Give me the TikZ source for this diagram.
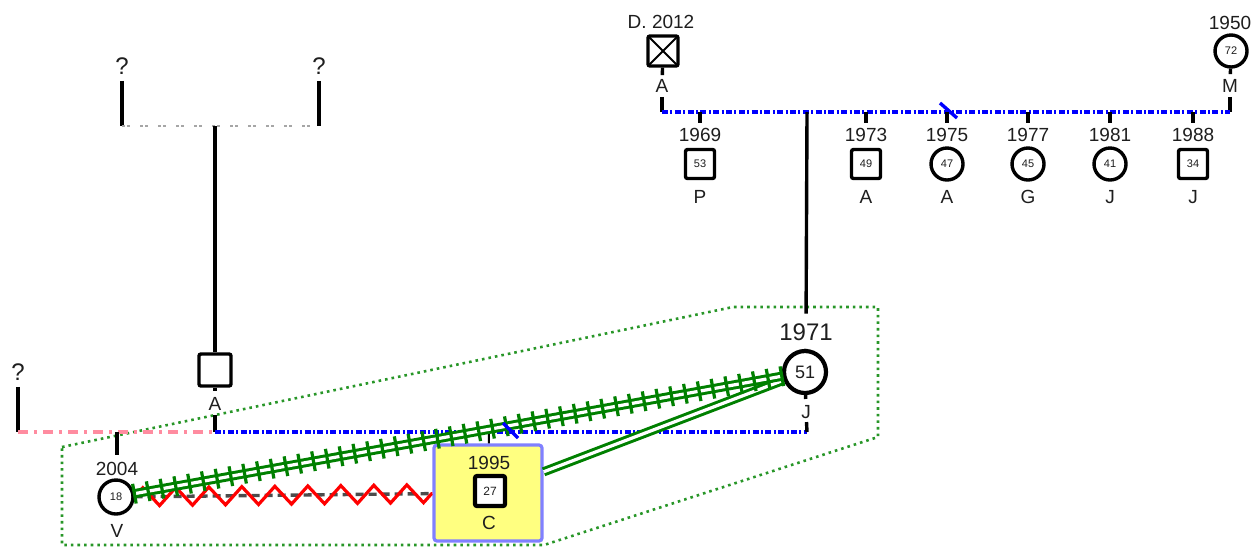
\documentclass[tikz,border=0pt]{standalone}
\usepackage{fontspec}
\setmainfont{Liberation Sans}
\usetikzlibrary{decorations.pathmorphing,decorations.markings}

\definecolor{famblue}{RGB}{0,0,255}
\definecolor{fampink}{RGB}{255,140,160}
\definecolor{relgreen}{RGB}{0,128,0}
\definecolor{grpgreen}{RGB}{40,150,40}
\definecolor{boxfill}{RGB}{255,255,128}
\definecolor{boxdraw}{RGB}{128,128,255}
\definecolor{txt}{RGB}{30,30,30}

\tikzset{
  male/.style={draw, rectangle, rounded corners=1pt, line width=1.7pt, minimum size=14.5pt, inner sep=0pt, fill=white, text=txt, font=\fontsize{5.5}{6}\selectfont},
  female/.style={draw, circle, line width=1.7pt, minimum size=16pt, inner sep=0pt, fill=white, text=txt, font=\fontsize{5.5}{6}\selectfont},
  dead/.style={male, minimum size=15pt, path picture={\draw[line width=1pt] (path picture bounding box.north west) -- (path picture bounding box.south east) (path picture bounding box.north east) -- (path picture bounding box.south west);}},
  lbl/.style={inner sep=0pt, text=txt, font=\fontsize{9.5}{11}\selectfont},
  qm/.style={inner sep=0pt, text=txt, font=\fontsize{12}{13}\selectfont},
  kin/.style={line width=1.7pt},
  marblue/.style={famblue, line width=1.8pt, dash pattern=on 3pt off 1.2pt on 1pt off 1.2pt},
  marpink/.style={fampink, line width=1.9pt, dash pattern=on 5pt off 3pt on 1.5pt off 3pt},
  gpline/.style={gray!70, line width=1.3pt, dash pattern=on 1.5pt off 1pt on 1.5pt off 5pt},
  slash/.style={famblue, line width=1.7pt},
  grpbox/.style={grpgreen, dotted, line width=1.3pt},
  cbox/.style={draw=boxdraw, fill=boxfill, line width=1.6pt, rounded corners=1.5pt, minimum width=54pt, minimum height=48pt},
  dashrel/.style={black!70, line width=1.7pt, dash pattern=on 4pt off 2.5pt},
  zz/.style={red, line width=1.6pt, decorate, decoration={zigzag, segment length=16.5pt, amplitude=4.5pt}},
  dbl/.style={relgreen, line width=1.5pt, double=white, double distance=1.6pt},
  hatch/.style={dbl, postaction={decorate, decoration={markings, mark=between positions 0 and 1 step 7pt with {\draw[relgreen, line width=1.6pt] (0,-5pt) -- (0,5pt);}}}}
}

\begin{document}
\begin{tikzpicture}[x=0.5pt,y=-0.5pt]
\useasboundingbox (0,0) rectangle (1256,548);

%群组框
\draw[grpbox] (62,447) -- (733,307) -- (878,307) -- (878,437) -- (544,545) -- (62,545) -- cycle;

%左上 祖父母
\node[qm] (q1) at (122,66) {?};
\node[qm] (q2) at (319,66) {?};
\coordinate (gpL) at (122,126);
\coordinate (gpR) at (319,126);
\coordinate (gpM) at (215,126);
\draw[kin, shorten <=3pt] (q1) -- (gpL);
\draw[kin, shorten <=3pt] (q2) -- (gpR);
\draw[gpline] (gpL) -- (gpR);

%父亲 A
\node[male, minimum size=16pt] (A1) at (215,370) {};
\node[lbl] (A1n) at (215,404) {A};
\draw[kin] (gpM) -- (A1);
\draw[kin, shorten >=3pt] (A1) -- (A1n);

\node[qm] (q3) at (18,372) {?};
\coordinate (mLL) at (18,432);
\coordinate (mL) at (215,432);
\coordinate (mR) at (807,432);
\draw[kin, shorten <=3pt] (q3) -- (mLL);
\draw[kin, shorten <=2pt] (A1n) -- (mL);
\draw[marpink] (mLL) -- (mL);
\draw[marblue] (mL) -- (mR);

%上方家庭
\node[lbl] (Dy) at (661,22) {D. 2012};
\node[dead] (D) at (663,51) {};
\node[lbl] (Dn) at (662,86) {A};
\node[lbl] (My) at (1230,23) {1950};
\node[female] (M) at (1231,51) {72};
\node[lbl] (Mn) at (1230,86) {M};
\coordinate (tL) at (662,112);
\coordinate (tR) at (1230,112);
\coordinate (tmid) at (807,112);
\draw[kin, shorten >=2pt] (D) -- (Dn);
\draw[kin, shorten >=2.5pt] (M) -- (Mn);
\draw[kin, shorten <=2pt] (Dn) -- (tL);
\draw[kin, shorten <=2pt] (Mn) -- (tR);
\draw[marblue] (tL) -- (tR);
\draw[slash] (940,103) -- (957,118);

\foreach \x/\yr/\age/\nm [count=\i] in {700/1969/53/P, 866/1973/49/A, 1193/1988/34/J} {
  \coordinate (tm\i) at (\x,112);
  \node[lbl] (tmy\i) at (\x,135) {\yr};
  \node[male] (tms\i) at (\x,164) {\age};
  \node[lbl] (tmn\i) at (\x,197) {\nm};
  \draw[kin, shorten >=2.5pt] (tm\i) -- (tmy\i);
}
\foreach \x/\yr/\age/\nm [count=\i] in {947/1975/47/A, 1028/1977/45/G, 1110/1981/41/J} {
  \coordinate (tf\i) at (\x,112);
  \node[lbl] (tfy\i) at (\x,135) {\yr};
  \node[female] (tfs\i) at (\x,164) {\age};
  \node[lbl] (tfn\i) at (\x,197) {\nm};
  \draw[kin, shorten >=2.5pt] (tf\i) -- (tfy\i);
}

%母亲 J
\node[lbl, font=\fontsize{12}{13}\selectfont] (Jy) at (806,332) {1971};
\node[female, minimum size=21pt, line width=2.1pt, font=\fontsize{9}{9}\selectfont] (J) at (805,372) {51};
\node[lbl] (Jn) at (806,412) {J};
\draw[kin, shorten >=4.75pt] (tmid) -- (Jy);
\draw[kin, shorten >=4pt] (J) -- (Jy);
\draw[kin, shorten >=3pt] (J) -- (Jn);
\draw[kin, shorten <=1.5pt] (Jn) -- (mR);

%孩子
\coordinate (cV) at (117,432);
\node[lbl] (Vy) at (117,469) {2004};
\node[female, minimum size=17pt] (V) at (116,497) {18};
\node[lbl] (Vn) at (117,531) {V};
\draw[kin, shorten >=3.5pt] (cV) -- (Vy);

\coordinate (cC) at (489,432);
\node[cbox] (Cbox) at (488,493) {};
\node[lbl] (Cy) at (489,463) {1995};
\node[male, minimum size=15pt, line width=2.1pt, font=\fontsize{6}{6}\selectfont] (C) at (490,491) {27};
\node[lbl] (Cn) at (489,523) {C};
\draw[line width=1pt] (cC) -- (Cbox);

%关系
\draw[dashrel] (V) -- (Cbox);
\draw[zz] (V) -- (Cbox);
\draw[dbl] (Cbox) -- (J);
\draw[hatch] (V) -- (J);
\draw[slash] (503,423) -- (518,438);

\end{tikzpicture}
\end{document}
